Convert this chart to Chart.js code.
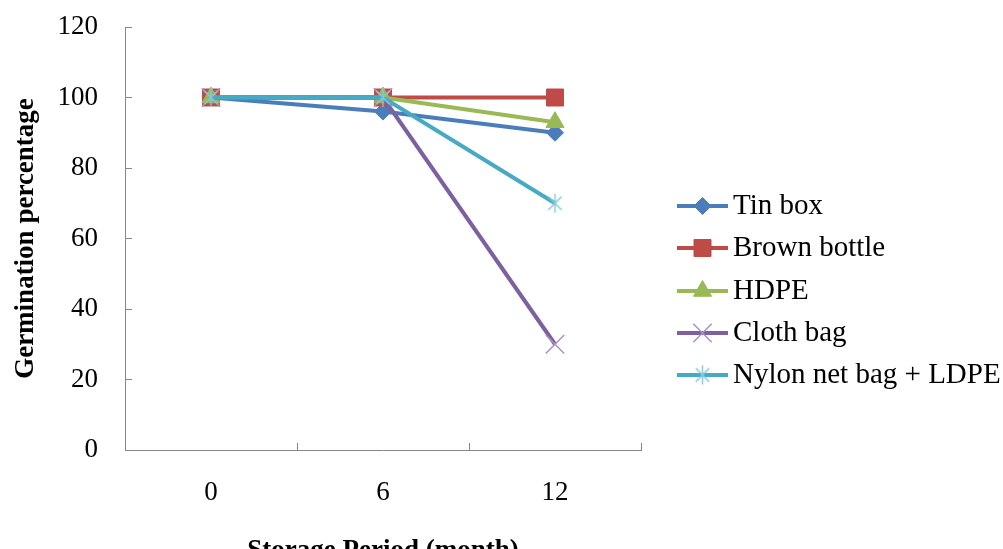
<!DOCTYPE html>
<html>
<head>
<meta charset="utf-8">
<script src="https://cdn.jsdelivr.net/npm/chart.js@4/dist/chart.umd.min.js"></script>
<style>
  html, body { margin: 0; padding: 0; background: #ffffff; }
  #wrap { width: 1003px; height: 549px; position: relative; }
</style>
</head>
<body>
<div id="wrap"><canvas id="chart"></canvas></div>
<script>
// Storage period categories (months)
const months = ['0', '6', '12'];

// Germination percentage for each storage container
const tinBox       = [100, 96, 90];
const brownBottle  = [100, 100, 100];
const hdpe         = [100, 100, 93];
const clothBag     = [100, 100, 30];
const nylonNetLdpe = [100, 100, 70];

const seriesNames = ['Tin box', 'Brown bottle', 'HDPE', 'Cloth bag', 'Nylon net bag + LDPE'];
const seriesValues = [tinBox, brownBottle, hdpe, clothBag, nylonNetLdpe];

// Y axis range and step
const yMin = 0, yMax = 120, yStep = 20;

const xTitleText = 'Storage Period (month)';
const yTitleText = 'Germination percentage';

const FONT = '"Liberation Serif", "Times New Roman", Times, serif';
const AXIS_GREY = '#868686';

// Asterisk marker (vertical bar plus an X), drawn onto a small canvas
function asteriskMarker(color, r) {
  const s = Math.ceil(r * 2 + 4);
  const cv = document.createElement('canvas');
  cv.width = s; cv.height = s;
  const g = cv.getContext('2d');
  const c = s / 2;
  const d = r * Math.SQRT1_2;
  g.strokeStyle = color;
  g.lineWidth = 1.5;
  g.beginPath();
  g.moveTo(c, c - r); g.lineTo(c, c + r);
  g.moveTo(c - d, c - d); g.lineTo(c + d, c + d);
  g.moveTo(c - d, c + d); g.lineTo(c + d, c - d);
  g.stroke();
  return cv;
}

const styles = [
  { line: '#4a7ebb', fill: '#4a7ebb', stroke: '#4a7ebb', point: 'rectRot',  radius: 8.5, pw: 1 },
  { line: '#be4b48', fill: '#be4b48', stroke: '#be4b48', point: 'rect',     radius: 12,  pw: 1 },
  { line: '#98b954', fill: '#98b954', stroke: '#98b954', point: 'triangle', radius: 10.5, pw: 1 },
  { line: '#7d60a0', fill: '#7d60a0', stroke: '#a793c4', point: 'crossRot', radius: 13,  pw: 1.5 },
  { line: '#46aac5', fill: '#46aac5', stroke: '#86c9dc', point: asteriskMarker('#86c9dc', 9.5), radius: 10, pw: 1.5 }
];

const datasets = seriesNames.map((name, i) => ({
  label: name,
  data: seriesValues[i],
  borderColor: styles[i].line,
  backgroundColor: styles[i].fill,
  borderWidth: 4,
  pointStyle: styles[i].point,
  pointRadius: styles[i].radius,
  pointHoverRadius: styles[i].radius,
  pointBackgroundColor: styles[i].fill,
  pointBorderColor: styles[i].stroke,
  pointBorderWidth: styles[i].pw,
  tension: 0,
  fill: false,
  // later series are painted on top
  order: seriesNames.length - 1 - i
}));

// Legend: a short line with the series marker, followed by the name
const legendLayout = { x: 677, lineLen: 51, firstY: 206, gap: 42.3, textGap: 5, fontSize: 29 };

const sideLegend = {
  id: 'sideLegend',
  afterDraw(chart) {
    const ctx = chart.ctx;
    const L = legendLayout;
    ctx.save();
    chart.data.datasets.forEach((ds, i) => {
      const y = Math.round(L.firstY + i * L.gap);
      ctx.strokeStyle = ds.borderColor;
      ctx.lineWidth = ds.borderWidth;
      ctx.beginPath();
      ctx.moveTo(L.x, y);
      ctx.lineTo(L.x + L.lineLen, y);
      ctx.stroke();
      const cx = L.x + L.lineLen / 2;
      ctx.fillStyle = ds.pointBackgroundColor;
      ctx.strokeStyle = ds.pointBorderColor;
      ctx.lineWidth = ds.pointBorderWidth;
      Chart.helpers.drawPoint(ctx, {
        pointStyle: ds.pointStyle,
        radius: ds.pointRadius,
        borderWidth: ds.pointBorderWidth,
        rotation: 0
      }, cx, y);
      ctx.fillStyle = '#000000';
      ctx.font = L.fontSize + 'px ' + FONT;
      ctx.textAlign = 'left';
      ctx.textBaseline = 'middle';
      ctx.fillText(ds.label, L.x + L.lineLen + L.textGap, y);
    });
    ctx.restore();
  }
};

new Chart(document.getElementById('chart'), {
  type: 'line',
  data: { labels: months, datasets },
  plugins: [sideLegend],
  options: {
    responsive: true,
    maintainAspectRatio: false,
    animation: false,
    events: [],
    layout: { padding: { top: 27, right: 362, bottom: 0, left: 0 } },
    plugins: {
      legend: { display: false },
      tooltip: { enabled: false },
      title: { display: false }
    },
    scales: {
      x: {
        type: 'category',
        offset: true,
        grid: {
          offset: true,
          drawOnChartArea: false,
          drawTicks: true,
          tickLength: -7,
          tickColor: AXIS_GREY,
          tickWidth: 1
        },
        border: { display: true, color: AXIS_GREY, width: 1 },
        ticks: {
          color: '#000000',
          font: { family: FONT, size: 27 },
          padding: 34,
          maxRotation: 0
        },
        title: {
          display: true,
          text: xTitleText,
          color: '#000000',
          font: { family: FONT, size: 27, weight: 'bold' },
          padding: { top: 0, bottom: -18 }
        },
        afterFit(scale) {
          scale.height = 99;
          scale.paddingLeft = 0;
          scale.paddingRight = 0;
        }
      },
      y: {
        min: yMin,
        max: yMax,
        grid: {
          drawOnChartArea: false,
          drawTicks: true,
          tickLength: -7,
          tickColor: AXIS_GREY,
          tickWidth: 1
        },
        border: { display: true, color: AXIS_GREY, width: 1 },
        ticks: {
          stepSize: yStep,
          color: '#000000',
          font: { family: FONT, size: 27 },
          padding: 34
        },
        title: {
          display: true,
          text: yTitleText,
          color: '#000000',
          font: { family: FONT, size: 27, weight: 'bold' },
          padding: { top: 10, bottom: 0 }
        },
        afterFit(scale) {
          scale.width = 125;
          scale.paddingTop = 0;
          scale.paddingBottom = 0;
        }
      }
    }
  }
});
</script>
</body>
</html>
